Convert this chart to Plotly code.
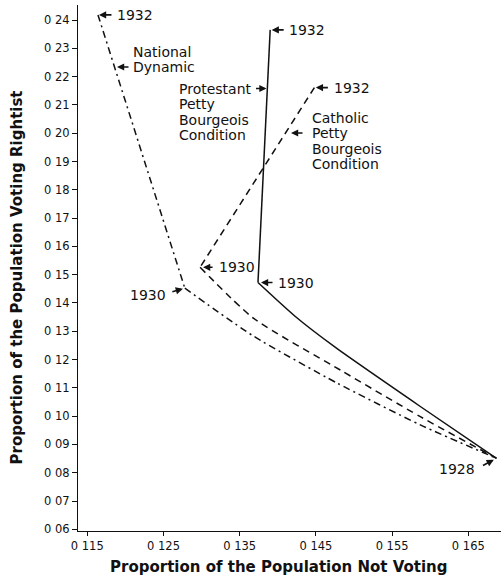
import plotly.graph_objects as go

# ---------------- data ----------------
years = ["1932", "1930", "1928"]

prot_x = [0.1390, 0.1374, 0.1687]
prot_y = [0.2365, 0.1472, 0.0851]
cath_x = [0.1448, 0.1298, 0.1687]
cath_y = [0.2161, 0.1526, 0.0851]
nat_x = [0.1164, 0.1278, 0.1687]
nat_y = [0.2418, 0.1452, 0.0851]

# points traced along the curved 1930 -> 1928 path
prot_path_x = [0.1423, 0.1477, 0.1587]
prot_path_y = [0.1352, 0.1240, 0.1034]
cath_path_x = [0.1368, 0.1482, 0.1587]
cath_path_y = [0.1346, 0.1163, 0.0998]
nat_path_x = [0.1368, 0.1477, 0.1587]
nat_path_y = [0.1283, 0.1118, 0.0969]

x_ticks = [0.115, 0.125, 0.135, 0.145, 0.155, 0.165]
x_ticktext = ["0 115", "0 125", "0 135", "0 145", "0 155", "0 165"]
y_ticks = [round(0.06 + 0.01 * i, 2) for i in range(19)]
y_ticktext = ["0 %02d" % int(round(v * 100)) for v in y_ticks]

X0, X1 = 0.11378, 0.16929
Y0, Y1 = 0.0594, 0.2453

INK = "#111111"
FONT = "DejaVu Sans"

fig = go.Figure()

def add_series(xs, ys, px, py, dash):
    # 1932 -> 1930 straight
    fig.add_trace(go.Scatter(x=xs[:2], y=ys[:2], mode="lines",
                             line=dict(color=INK, width=1.5, dash=dash),
                             showlegend=False, hoverinfo="skip"))
    # 1930 -> 1928 curved
    fig.add_trace(go.Scatter(x=[xs[1]] + px + [xs[2]], y=[ys[1]] + py + [ys[2]],
                             mode="lines",
                             line=dict(color=INK, width=1.5, dash=dash,
                                       shape="spline", smoothing=0.6),
                             showlegend=False, hoverinfo="skip"))

add_series(prot_x, prot_y, prot_path_x, prot_path_y, "solid")
add_series(cath_x, cath_y, cath_path_x, cath_path_y, "7px,5px")
add_series(nat_x, nat_y, nat_path_x, nat_path_y, "7px,4px,2px,4px")

# pixel -> data helpers for free-floating labels
def px_x(p):
    return X0 + (p - 78) / 423 * (X1 - X0)

def px_y(p):
    return Y1 - (p - 5) / 526 * (Y1 - Y0)

ann = []

def arrow(x, y, ax, ay, standoff=2):
    ann.append(dict(x=x, y=y, xref="x", yref="y", text="", showarrow=True,
                    ax=ax, ay=ay, arrowhead=2, arrowsize=0.9, arrowwidth=1.6,
                    arrowcolor=INK, standoff=standoff))

def label(x, y, text, xanchor="left", xshift=0, yshift=0):
    ann.append(dict(x=x, y=y, xref="x", yref="y", text=text, showarrow=False,
                    xanchor=xanchor, yanchor="middle", xshift=xshift, yshift=yshift,
                    font=dict(family=FONT, size=14, color=INK)))

# year labels attached to data points
# 1932
arrow(nat_x[0], nat_y[0], 15, 0, 1)
label(nat_x[0], nat_y[0], years[0], xshift=17)
arrow(prot_x[0], prot_y[0], 15, 0, 1.5)
label(prot_x[0], prot_y[0], years[0], xshift=17)
arrow(cath_x[0], cath_y[0], 15, 0, 1.5)
label(cath_x[0], cath_y[0], years[0], xshift=18)
# 1930
arrow(cath_x[1], cath_y[1], 14, 0, 3)
label(cath_x[1], cath_y[1], years[1], xshift=16.5)
arrow(prot_x[1], prot_y[1], 16, 0, 3)
label(prot_x[1], prot_y[1], years[1], xshift=18)
arrow(nat_x[1], nat_y[1], -14, 4, 2)
label(nat_x[1], nat_y[1], years[1], xanchor="right", xshift=-17, yshift=-7)
# 1928
arrow(nat_x[2], nat_y[2], -15, 8, 3)
label(nat_x[2], nat_y[2], years[2], xanchor="right", xshift=-20, yshift=-11)

# series name labels
def name_block(left_px, top_center_px, lines):
    for i, t in enumerate(lines):
        label(px_x(left_px), px_y(top_center_px + i * 15.5), t)

name_block(131, 51.5, ["National", "Dynamic"])
arrow(px_x(117), px_y(67), 13, 0, 0)

name_block(177, 88.5, ["Protestant", "Petty", "Bourgeois", "Condition"])
arrow(px_x(266.5), px_y(88.5), -12, 0, 0)

name_block(310, 117.5, ["Catholic", "Petty", "Bourgeois", "Condition"])
arrow(px_x(291), px_y(133), 13, 0, 0)

# axis titles
ann.append(dict(x=0.475, y=0, xref="paper", yref="paper", text="<b>Proportion of the Population Not Voting</b>",
                showarrow=False, xanchor="center", yanchor="middle", yshift=-36,
                font=dict(family=FONT, size=15, color=INK)))
ann.append(dict(x=0, y=0.482, xref="paper", yref="paper", text="<b>Proportion of the Population Voting Rightist</b>",
                showarrow=False, xanchor="center", yanchor="middle", xshift=-61, textangle=-90,
                font=dict(family=FONT, size=15, color=INK)))

fig.update_layout(
    width=501, height=580,
    margin=dict(l=78, r=0, t=5, b=49),
    paper_bgcolor="white", plot_bgcolor="white",
    annotations=ann,
    xaxis=dict(range=[X0, X1], tickmode="array", tickvals=x_ticks, ticktext=x_ticktext,
               showgrid=False, zeroline=False, showline=True, linecolor=INK, linewidth=1.3,
               ticks="outside", ticklen=4, tickwidth=1.2, tickcolor=INK,
               tickfont=dict(family=FONT, size=11.5, color=INK)),
    yaxis=dict(range=[Y0, Y1], tickmode="array", tickvals=y_ticks, ticktext=y_ticktext,
               showgrid=False, zeroline=False, showline=True, linecolor=INK, linewidth=1.3,
               ticks="outside", ticklen=5, tickwidth=1.2, tickcolor=INK,
               tickfont=dict(family=FONT, size=11.5, color=INK)),
)

fig.write_html("out.html", config={"displayModeBar": False},
               post_script="document.body.style.margin='0px';document.body.style.overflow='hidden';")
